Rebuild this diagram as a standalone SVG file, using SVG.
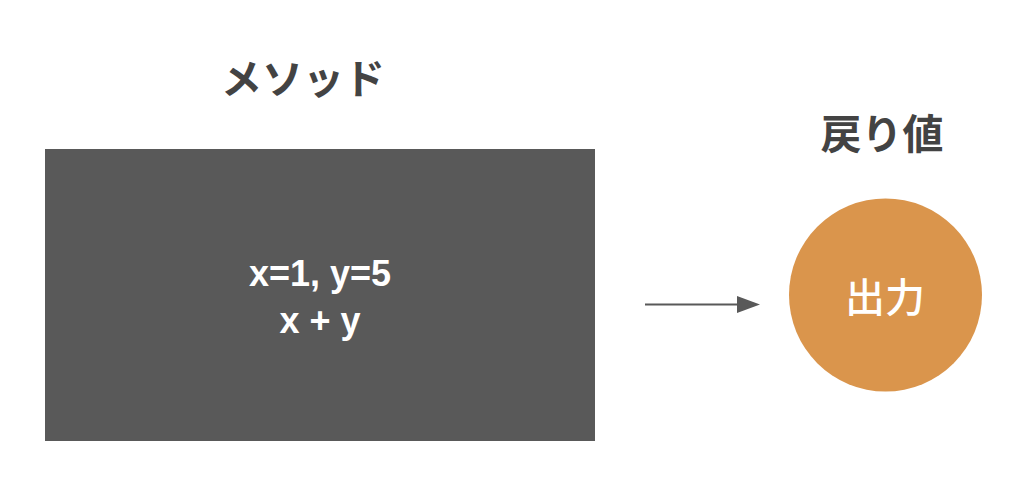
<svg xmlns="http://www.w3.org/2000/svg" width="1024" height="503" viewBox="0 0 1024 503">
<style>
.title{font-family:"Noto Sans CJK JP","Liberation Sans",sans-serif;font-weight:bold;font-size:41px;fill:#434343;text-anchor:middle}
.inner{font-family:"Liberation Sans",Arial,sans-serif;font-weight:bold;font-size:36px;fill:#ffffff;text-anchor:middle}
.out{font-family:"Noto Sans CJK JP",sans-serif;font-weight:500;font-size:40px;fill:#ffffff;text-anchor:middle}
</style>
<rect width="1024" height="503" fill="#ffffff"/>
<g id="method">
<text class="title" x="303" y="94">メソッド</text>
<rect x="45" y="149" width="550" height="292" fill="#595959"/>
<text class="inner" x="320" y="286">x=1, y=5</text>
<text class="inner" x="320" y="333">x + y</text>
</g>
<g id="return">
<text class="title" x="882" y="149">戻り値</text>
<circle cx="885.5" cy="295" r="96.5" fill="#DA954C"/>
<text class="out" x="885" y="312">出力</text>
</g>
<g id="connectors">
<line x1="645" y1="304.5" x2="737" y2="304.5" stroke="#595959" stroke-width="2"/>
<path d="M737,296 L760,304.5 L737,313 Z" fill="#595959"/>
</g>
</svg>
